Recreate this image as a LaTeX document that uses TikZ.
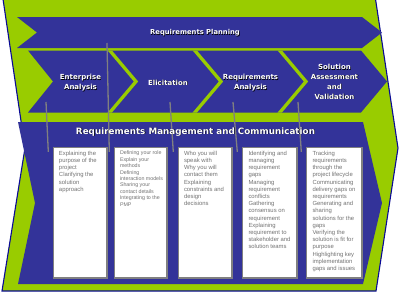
\documentclass[tikz,border=0pt]{standalone}
\usepackage{fontspec}
\setmainfont{Liberation Sans}
\newfontfamily\titlefont{DejaVu Sans}
\usetikzlibrary{calc}
\definecolor{rblue}{RGB}{51,51,153}
\definecolor{rgreen}{RGB}{153,204,0}
\definecolor{rnavy}{RGB}{10,10,150}
\definecolor{rgray}{RGB}{128,128,128}
\definecolor{rtext}{RGB}{115,115,115}
\newcommand\shd[1]{\leavevmode\rlap{\kern0.55pt\raisebox{-0.55pt}{\textcolor{black}{#1}}}#1}
\begin{document}
\begin{tikzpicture}[x=1pt,y=-1pt,
  outer/.style={fill=rgreen, draw=rnavy, line width=1.1pt, line join=miter},
  band/.style={fill=rblue},
  sep/.style={draw=rgreen, line width=3.3pt, line join=miter},
  link/.style={draw=rgray, line width=1.3pt},
  box/.style={draw=rgray, line width=1.6pt, fill=white, anchor=north west, inner sep=0pt, minimum height=130.4pt},
  boxtext/.style={anchor=north west, align=left, inner sep=0pt, text=rtext, font=\fontsize{5.9}{7.2}\selectfont},
  stage/.style={align=center, text=white, inner sep=0pt, font=\titlefont\bfseries\fontsize{7}{9.8}\selectfont},
  planning/.style={text=white, inner sep=0pt, font=\titlefont\bfseries\fontsize{6.8}{8}\selectfont},
  mgmt/.style={text=white, inner sep=0pt, font=\titlefont\bfseries\fontsize{8.8}{10}\selectfont},
]
\useasboundingbox (0,0) rectangle (400,293);
\fill[white] (0,0) rectangle (400,293);

% outer green chevron
\path[outer] (3,-1) -- (375.5,-1) -- (398,148) -- (376,291) -- (2,291) -- (25,148) -- cycle;

% row 1: requirements planning
\path[band] (17,17) -- (362,17) -- (382,32.5) -- (362,48) -- (17,48) -- (37,32.5) -- cycle;

% row 2: four stages
\path[band] (28,50.5) -- (361,50.5) -- (387,81.5) -- (361,112.5) -- (28,112.5) -- (53,81.5) -- cycle;
\begin{scope}
  \clip (28,50.5) -- (361,50.5) -- (387,81.5) -- (361,112.5) -- (28,112.5) -- (53,81.5) -- cycle;
  \draw[sep] (106,46) -- (136,81.5) -- (106,117);
  \draw[sep] (191,46) -- (221,81.5) -- (191,117);
  \draw[sep] (276,46) -- (306,81.5) -- (276,117);
\end{scope}

% big region: requirements management and communication
\path[band] (18,122) -- (363,122) -- (382,203) -- (363,284) -- (18,284) -- (35,203) -- cycle;

% boxes
\node[box, minimum width=53.4pt] (b1) at (52.8,146.8) {};
\node[box, minimum width=52.4pt] (b2) at (113.8,146.8) {};
\node[box, minimum width=53.4pt] (b3) at (177.8,146.8) {};
\node[box, minimum width=54.4pt] (b4) at (241.8,146.8) {};
\node[box, minimum width=55.4pt] (b5) at (305.8,146.8) {};

% connector lines
\coordinate (s1) at (46,102);
\coordinate (s2) at (107,43);
\coordinate (s3) at (170,102);
\coordinate (s4) at (233,102);
\coordinate (s5) at (298,102);
\coordinate (e1) at ($(b1.north west)+(-4.5,5)$);
\coordinate (e2) at ($(b2.north west)+(-4.5,5)$);
\coordinate (e3) at ($(b3.north west)+(-4.5,5)$);
\coordinate (e4) at ($(b4.north west)+(-4.5,5)$);
\coordinate (e5) at ($(b5.north west)+(-4.5,5)$);
\draw[link] (s1) -- (e1);
\draw[link] (s2) -- (e2);
\draw[link] (s3) -- (e3);
\draw[link] (s4) -- (e4);
\draw[link] (s5) -- (e5);

% titles
\node[planning] (rp) at (195,33) {\shd{Requirements Planning}};
\node[stage] (ea) at (80.5,83) {\shd{Enterprise}\\\shd{Analysis}};
\node[stage] (el) at (168,83) {\shd{Elicitation}};
\node[stage] (ra) at (250.5,83) {\shd{Requirements}\\\shd{Analysis}};
\node[stage] (sa) at (334.5,82) {\shd{Solution}\\\shd{Assessment}\\\shd{and}\\\shd{Validation}};
\node[mgmt] (rm) at (195.5,132) {\shd{Requirements Management and Communication}};

% box texts
\node[boxtext] (t1) at ($(b1.north west)+(6,4)$) {Explaining the\\purpose of the\\project\\Clarifying the\\solution\\approach};
\node[boxtext, font=\fontsize{5.3}{6.4}\selectfont] (t2) at ($(b2.north west)+(6,4)$) {Defining your role\\Explain your\\methods\\Defining\\interaction models\\Sharing your\\contact details\\Integrating to the\\PMP};
\node[boxtext] (t3) at ($(b3.north west)+(6,4)$) {Who you will\\speak with\\Why you will\\contact them\\Explaining\\constraints and\\design\\decisions};
\node[boxtext] (t4) at ($(b4.north west)+(6.5,4)$) {Identifying and\\managing\\requirement\\gaps\\Managing\\requirement\\conflicts\\Gathering\\consensus on\\requirement\\Explaining\\requirement to\\stakeholder and\\solution teams};
\node[boxtext] (t5) at ($(b5.north west)+(6.5,4)$) {Tracking\\requirements\\through the\\project lifecycle\\Communicating\\delivery gaps on\\requirements\\Generating and\\sharing\\solutions for the\\gaps\\Verifying the\\solution is fit for\\purpose\\Highlighting key\\implementation\\gaps and issues};
\end{tikzpicture}
\end{document}
